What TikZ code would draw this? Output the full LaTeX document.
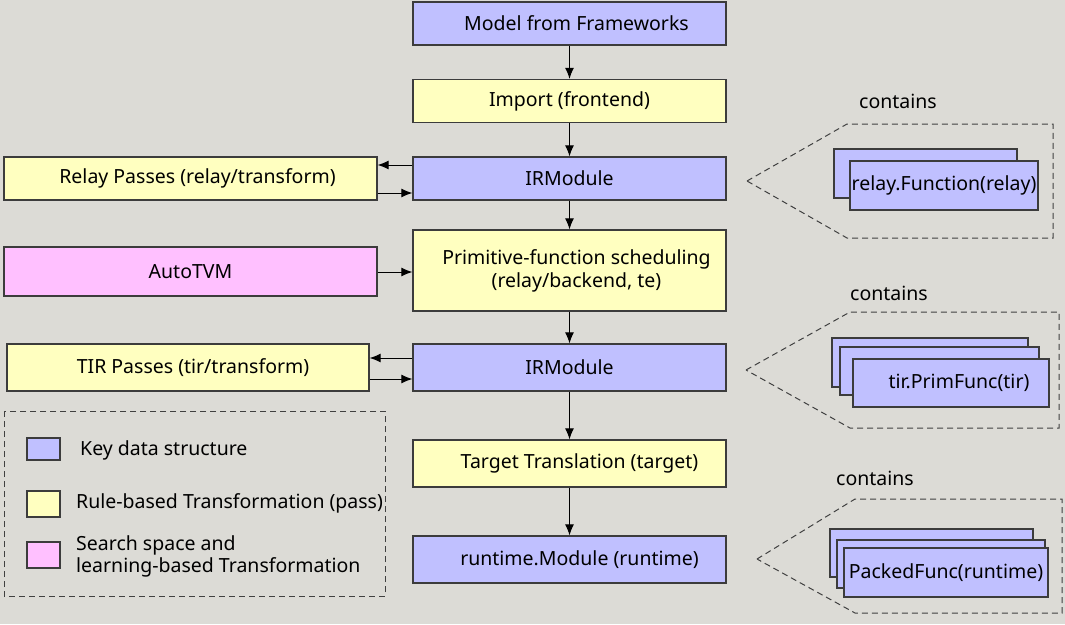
\documentclass[tikz,border=0pt]{standalone}
\usepackage{fontspec}
\setmainfont{Noto Sans}
\usetikzlibrary{arrows.meta}
\definecolor{bg}{RGB}{220,219,214}
\definecolor{kblue}{RGB}{192,192,255}
\definecolor{kyel}{RGB}{255,255,192}
\definecolor{kpink}{RGB}{255,192,255}
\definecolor{edgec}{RGB}{60,60,60}
\begin{document}
\begin{tikzpicture}[x=1pt,y=-1pt,
  box/.style={draw=edgec, line width=1.3pt, font=\fontsize{19.5}{23}\selectfont, align=center, inner sep=0pt},
  bluebox/.style={box, fill=kblue},
  yelbox/.style={box, fill=kyel},
  pinkbox/.style={box, fill=kpink},
  arr/.style={line width=1pt, -{Latex[length=11pt,width=9pt]}},
  dashbox/.style={draw=black!75, line width=1pt, dash pattern=on 6pt off 4pt},
  lbl/.style={font=\fontsize{19.5}{22}\selectfont, inner sep=0pt, align=left}]
\fill[bg] (0,0) rectangle (1065,624);
\useasboundingbox (0,0) rectangle (1065,624);

% main column
\node[bluebox, minimum width=313, minimum height=43] (model) at (569.5,23.5) {\hspace*{14pt}Model from Frameworks};
\node[yelbox, minimum width=313, minimum height=43] (imp) at (569.5,101) {Import (frontend)};
\node[bluebox, minimum width=313, minimum height=43] (ir1) at (569.5,178.5) {IRModule};
\node[yelbox, minimum width=313, minimum height=81] (prim) at (569.5,270.5) {\hspace*{14pt}Primitive-function scheduling\\\hspace*{14pt}(relay/backend, te)};
\node[bluebox, minimum width=313, minimum height=47] (ir2) at (569.5,367.5) {IRModule};
\node[yelbox, minimum width=313, minimum height=47] (tt) at (569.5,463.5) {\hspace*{20pt}Target Translation (target)};
\node[bluebox, minimum width=313, minimum height=47] (rt) at (569.5,559.5) {\hspace*{20pt}runtime.Module (runtime)};

% left column
\node[yelbox, minimum width=373, minimum height=43] (relay) at (190.5,178.5) {\hspace*{14pt}Relay Passes (relay/transform)};
\node[pinkbox, minimum width=373, minimum height=49] (auto) at (190.5,271.5) {AutoTVM};
\node[yelbox, minimum width=362, minimum height=47] (tir) at (188,367.5) {\hspace*{10pt}TIR Passes (tir/transform)};

% arrows
\draw[arr] (model) -- (imp);
\draw[arr] (imp) -- (ir1);
\draw[arr] (ir1) -- (prim);
\draw[arr] (prim) -- (ir2);
\draw[arr] (ir2) -- (tt);
\draw[arr] (tt) -- (rt);
\draw[arr] (ir1.west |- 0,165) -- (relay.east |- 0,165);
\draw[arr] (relay.east |- 0,193) -- (ir1.west |- 0,193);
\draw[arr] (auto.east |- 0,272) -- (prim.west |- 0,272);
\draw[arr] (ir2.west |- 0,358) -- (tir.east |- 0,358);
\draw[arr] (tir.east |- 0,379) -- (ir2.west |- 0,379);

% legend
\draw[dashbox] (4,411) rectangle (385,596);
\node[bluebox, minimum width=33, minimum height=22] (lg1) at (43.5,449) {};
\node[yelbox, minimum width=33, minimum height=26] (lg2) at (43.5,504) {};
\node[pinkbox, minimum width=33, minimum height=26] (lg3) at (43.5,555) {};
\node[lbl, anchor=west] (lt1) at (80,450) {Key data structure};
\node[lbl, anchor=west] (lt2) at (76,503) {Rule-based Transformation (pass)};
\node[lbl, anchor=west] (lt3) at (76,556) {Search space and\\learning-based Transformation};

% callout 1
\node[lbl] (c1) at (898,101) {contains};
\draw[dashbox] (747,181) -- (847,124) -- (1053,124) -- (1053,238) -- (847,238) -- cycle;
\node[bluebox, minimum width=183, minimum height=49] (f1a) at (925.5,173.5) {};
\node[bluebox, minimum width=188, minimum height=49] (f1b) at (944,185.5) {relay.Function(relay)};

% callout 2
\node[lbl] (c2) at (889,293) {contains};
\draw[dashbox] (746,370) -- (850,312) -- (1059,312) -- (1059,428) -- (850,428) -- cycle;
\node[bluebox, minimum width=196, minimum height=49] (f2a) at (930,362.5) {};
\node[bluebox, minimum width=199, minimum height=48] (f2b) at (939.5,371) {};
\node[bluebox, minimum width=196, minimum height=48] (f2c) at (951,383) {\hspace*{16pt}tir.PrimFunc(tir)};

% callout 3
\node[lbl] (c3) at (875,478) {contains};
\draw[dashbox] (757,559) -- (855,499) -- (1062,499) -- (1062,613) -- (855,613) -- cycle;
\node[bluebox, minimum width=203, minimum height=48] (f3a) at (931.5,553) {};
\node[bluebox, minimum width=208, minimum height=48] (f3b) at (941,564) {};
\node[bluebox, minimum width=204, minimum height=49] (f3c) at (946,572.5) {PackedFunc(runtime)};
\end{tikzpicture}
\end{document}
